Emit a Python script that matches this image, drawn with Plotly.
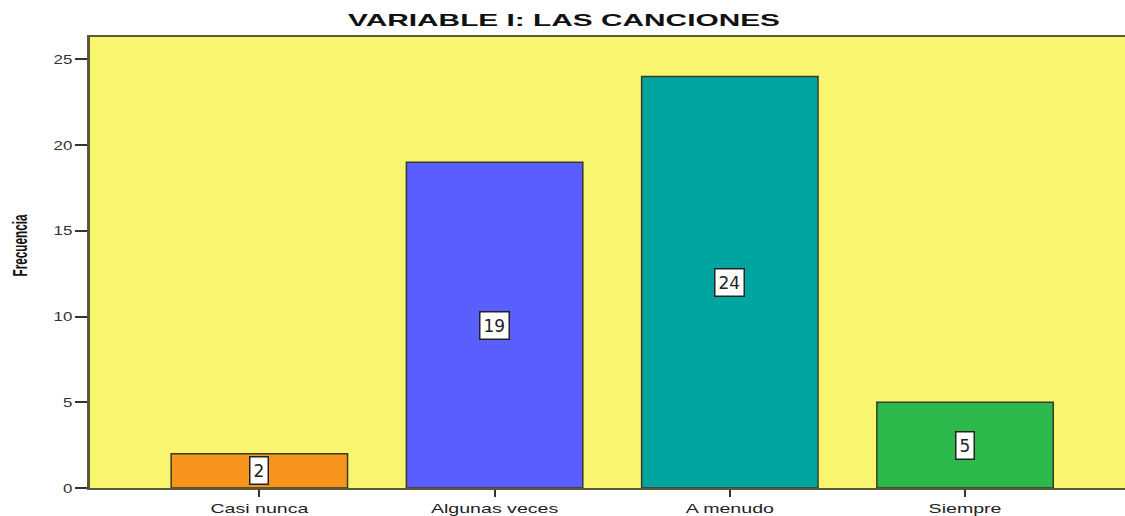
import plotly.graph_objects as go

categories = ["Casi nunca", "Algunas veces", "A menudo", "Siempre"]
values = [2, 19, 24, 5]
colors = ["#F7941D", "#5B5EFF", "#00A5A0", "#2DB84B"]
y_ticks = [0, 5, 10, 15, 20, 25]

fig = go.Figure()
fig.add_trace(go.Bar(
    x=list(range(len(categories))), y=values,
    marker=dict(color=colors, line=dict(color="#3a3a2a", width=1.5)),
    width=0.75, hoverinfo="skip", showlegend=False,
))

for i, v in enumerate(values):
    fig.add_annotation(
        x=i, y=v / 2, text=str(v), showarrow=False,
        font=dict(family="DejaVu Sans, Liberation Sans", size=17, color="#222"),
        bgcolor="white", bordercolor="#222", borderwidth=1.5, borderpad=3,
    )

fig.add_annotation(
    xref="paper", yref="paper", x=(20 - 90) / 1035, y=(496 - 249) / 459,
    text="<b>Frecuencia</b>", textangle=-90, showarrow=False,
    xanchor="center", yanchor="middle",
    font=dict(family="Liberation Sans, Arial", size=20, color="#111"),
)

fig.update_layout(
    width=1125, height=516,
    margin=dict(l=90, r=0, t=37, b=20),
    paper_bgcolor="white", plot_bgcolor="#F9F56E",
    title=dict(text="<b>VARIABLE I: LAS CANCIONES</b>", x=564 / 1125, xanchor="center",
               xref="container", yref="container",
               y=1 - 20 / 516, yanchor="middle",
               font=dict(family="Liberation Sans, Arial", size=17, color="#111")),
    xaxis=dict(
        range=[-0.72, 3.68], tickmode="array",
        tickvals=list(range(len(categories))), ticktext=categories,
        ticks="outside", ticklen=7, tickwidth=2, tickcolor="#333",
        showgrid=False, zeroline=False,
        showline=True, linecolor="#5a5a3a", linewidth=2, mirror=True,
        tickfont=dict(family="Liberation Sans, Arial", size=13.5, color="#222"),
    ),
    yaxis=dict(
        range=[0, 26.3], tickvals=y_ticks,
        ticks="outside", ticklen=12, tickwidth=2, tickcolor="#333",
        showgrid=False, zeroline=False,
        showline=True, linecolor="#5a5a3a", linewidth=3, mirror=False,
        tickfont=dict(family="Liberation Sans, Arial", size=13, color="#333"),
    ),
)

post = r"""
document.body.style.margin='0';document.body.style.overflow='hidden';
function stretch(e, factor){
  var w = e.getComputedTextLength();
  e.setAttribute('textLength', (w*factor).toFixed(1));
  e.setAttribute('lengthAdjust','spacingAndGlyphs');
}
document.querySelectorAll('.gtitle').forEach(function(e){
  var w = e.getComputedTextLength(); stretch(e, 432/w);
});
document.querySelectorAll('.xtick text').forEach(function(e){ stretch(e, 1.45); });
document.querySelectorAll('.ytick text').forEach(function(e){ stretch(e, 1.3); });
document.querySelectorAll('.annotation-text').forEach(function(e){
  if (e.textContent === 'Frecuencia') { var w = e.getComputedTextLength(); stretch(e, 62/w); }
});
"""
fig.write_html("out.html", post_script=post, config={"displayModeBar": False})
